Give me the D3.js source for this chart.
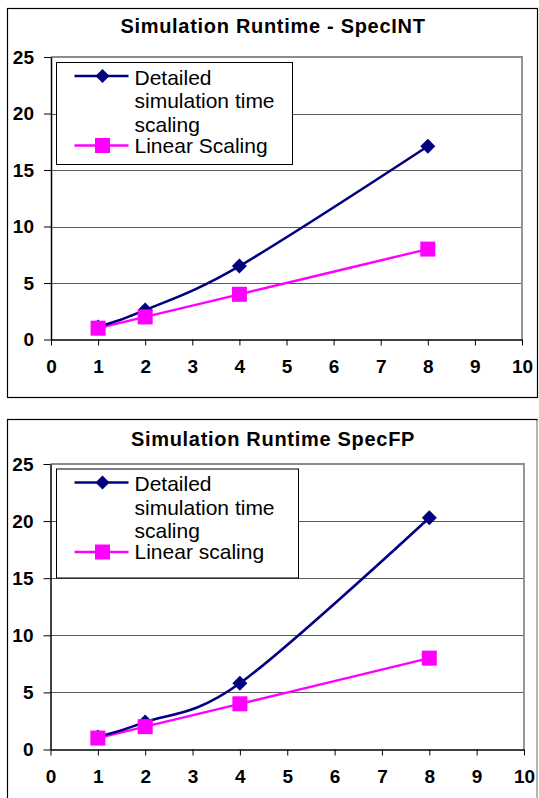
<!DOCTYPE html>
<html>
<head>
<meta charset="utf-8">
<script src="https://cdn.jsdelivr.net/npm/d3@7"></script>
<style>
  body { margin: 0; background: #fff; }
  svg { display: block; }
</style>
</head>
<body>
<div id="chart"></div>
<script>
// ---- data ----
var cores = [1, 2, 4, 8];
var intDetailed = [1.1, 2.6, 6.5, 17.1];
var intLinear = [1, 2, 4, 8];
var fpDetailed = [1.1, 2.4, 5.8, 20.3];
var fpLinear = [1, 2, 4, 8];
var xTicks = [0, 1, 2, 3, 4, 5, 6, 7, 8, 9, 10];
var yTicks = [0, 5, 10, 15, 20, 25];

var font = "'Liberation Sans', Arial, sans-serif";
var navy = '#000080';
var magenta = '#ff00ff';

var svg = d3.select("#chart")
    .append('svg')
    .attr('width', 539)
    .attr('height', 798)

function drawChart(cfg) {
    //-------------------------OUTER BOX-------------------------\\
    svg.append('rect')
        .attr('x', cfg.box[0])
        .attr('y', cfg.box[1])
        .attr('width', cfg.box[2])
        .attr('height', cfg.box[3])
        .attr('fill', 'none')
        .attr('stroke', '#000')
        .attr('stroke-width', 1.2)

    //-------------------------TITLE-------------------------\\
    svg.append("text")
        .attr("x", 273)
        .attr("y", cfg.titleY)
        .style("text-anchor", "middle")
        .style("font-family", font)
        .style("font-weight", "700")
        .style("font-size", "20px")
        .style("letter-spacing", "0.7px")
        .text(cfg.title)

    var x = d3.scaleLinear().domain([0, 10]).range([cfg.plot.left, cfg.plot.right]);
    var y = d3.scaleLinear().domain([0, 25]).range([cfg.plot.bottom, cfg.plot.top]);

    //-------------------------GRIDLINES + PLOT BORDER-------------------------\\
    svg.selectAll('.grid' + cfg.id)
        .data(yTicks.filter(d => d > 0 && d < 25))
        .join('line')
        .attr('x1', x(0))
        .attr('x2', x(10))
        .attr('y1', d => Math.round(y(d)) + 0.5)
        .attr('y2', d => Math.round(y(d)) + 0.5)
        .attr('stroke', '#5a5a5a')
        .attr('stroke-width', 1)

    svg.append('path')
        .attr('d', 'M' + x(0) + ',' + y(25) + 'H' + x(10) + 'V' + y(0))
        .attr('fill', 'none')
        .attr('stroke', '#8c8c8c')
        .attr('stroke-width', 1.8)

    //-------------------------AXES-------------------------\\
    var yAxis = svg.append('g')
        .attr('transform', 'translate(' + x(0) + ',0)')
        .call(d3.axisLeft(y).tickValues(yTicks).tickSize(7).tickPadding(10).tickSizeOuter(0))
    var xAxis = svg.append('g')
        .attr('transform', 'translate(0,' + y(0) + ')')
        .call(d3.axisBottom(x).tickValues(xTicks).tickSize(6).tickPadding(14).tickSizeOuter(0))

    ;[yAxis, xAxis].forEach(function(a) {
        a.select('.domain').attr('stroke', '#000').attr('stroke-width', 1.5)
        a.selectAll('.tick line').attr('stroke', '#000').attr('stroke-width', 1)
        a.selectAll('text')
            .style('font-family', font)
            .style('font-weight', '700')
            .style('font-size', '19px')
            .attr('fill', '#000')
    })

    //-------------------------SERIES LINES-------------------------\\
    var line = d3.line()
        .x((d, i) => x(cores[i]))
        .y(d => y(d))
        .curve(d3.curveCatmullRom.alpha(0))

    svg.append('path')
        .datum(cfg.linear)
        .attr('d', line)
        .attr('fill', 'none')
        .attr('stroke', magenta)
        .attr('stroke-width', 2.4)

    svg.append('path')
        .datum(cfg.detailed)
        .attr('d', line)
        .attr('fill', 'none')
        .attr('stroke', navy)
        .attr('stroke-width', 2.6)

    var diamond = 'M0,-7.5L7.5,0L0,7.5L-7.5,0Z';

    svg.selectAll('.dia' + cfg.id)
        .data(cfg.detailed)
        .join('path')
        .attr('d', diamond)
        .attr('transform', (d, i) => 'translate(' + x(cores[i]) + ',' + y(d) + ')')
        .attr('fill', navy)

    svg.selectAll('.sq' + cfg.id)
        .data(cfg.linear)
        .join('rect')
        .attr('x', (d, i) => x(cores[i]) - 7.5)
        .attr('y', d => y(d) - 7.5)
        .attr('width', 15)
        .attr('height', 15)
        .attr('fill', magenta)

    //-------------------------LEGEND-------------------------\\
    var lg = svg.append('g')
        .attr('transform', 'translate(' + cfg.legend[0] + ',' + cfg.legend[1] + ')')

    lg.append('rect')
        .attr('width', cfg.legend[2])
        .attr('height', cfg.legend[3])
        .attr('fill', '#fff')
        .attr('stroke', '#000')
        .attr('stroke-width', 1)

    var rows = [
        { y: 13.5, color: navy, lines: cfg.names[0], dy: 22 },
        { y: 83, color: magenta, lines: cfg.names[1], dy: 90 }
    ];

    rows.forEach(function(r, k) {
        lg.append('line')
            .attr('x1', 18).attr('x2', 72)
            .attr('y1', r.y).attr('y2', r.y)
            .attr('stroke', r.color)
            .attr('stroke-width', 2.4)
        if (k == 0) {
            lg.append('path')
                .attr('d', 'M0,-7L7,0L0,7L-7,0Z')
                .attr('transform', 'translate(46,' + r.y + ')')
                .attr('fill', navy)
        } else {
            lg.append('rect')
                .attr('x', 46 - 7.5).attr('y', r.y - 7.5)
                .attr('width', 15).attr('height', 15)
                .attr('fill', magenta)
        }
        lg.selectAll('.lt' + cfg.id + k)
            .data(r.lines)
            .join('text')
            .attr('x', 78)
            .attr('y', (d, i) => r.dy + i * 23.5)
            .style('font-family', font)
            .style('font-size', '21px')
            .text(d => d)
    })

    if (cfg.rightGray) {
        svg.append('line')
            .attr('x1', cfg.box[0] + cfg.box[2]).attr('x2', cfg.box[0] + cfg.box[2])
            .attr('y1', cfg.box[1] + 1).attr('y2', 798)
            .attr('stroke', '#c8c8c8')
            .attr('stroke-width', 1.6)
    }
}

drawChart({
    id: 'int',
    title: 'Simulation Runtime - SpecINT',
    titleY: 33,
    box: [7.5, 8.5, 530, 389],
    plot: { left: 51, right: 522, top: 57, bottom: 339.5 },
    legend: [56.5, 62.5, 236, 102],
    names: [['Detailed', 'simulation time', 'scaling'], ['Linear Scaling']],
    detailed: intDetailed,
    linear: intLinear
})

drawChart({
    id: 'fp',
    title: 'Simulation Runtime SpecFP',
    titleY: 446,
    box: [7.5, 419.5, 529.5, 400],
    plot: { left: 50.5, right: 524, top: 464, bottom: 749.5 },
    legend: [56.5, 469, 242, 109],
    names: [['Detailed', 'simulation time', 'scaling'], ['Linear scaling']],
    detailed: fpDetailed,
    linear: fpLinear,
    rightGray: true
})
</script>
</body>
</html>
